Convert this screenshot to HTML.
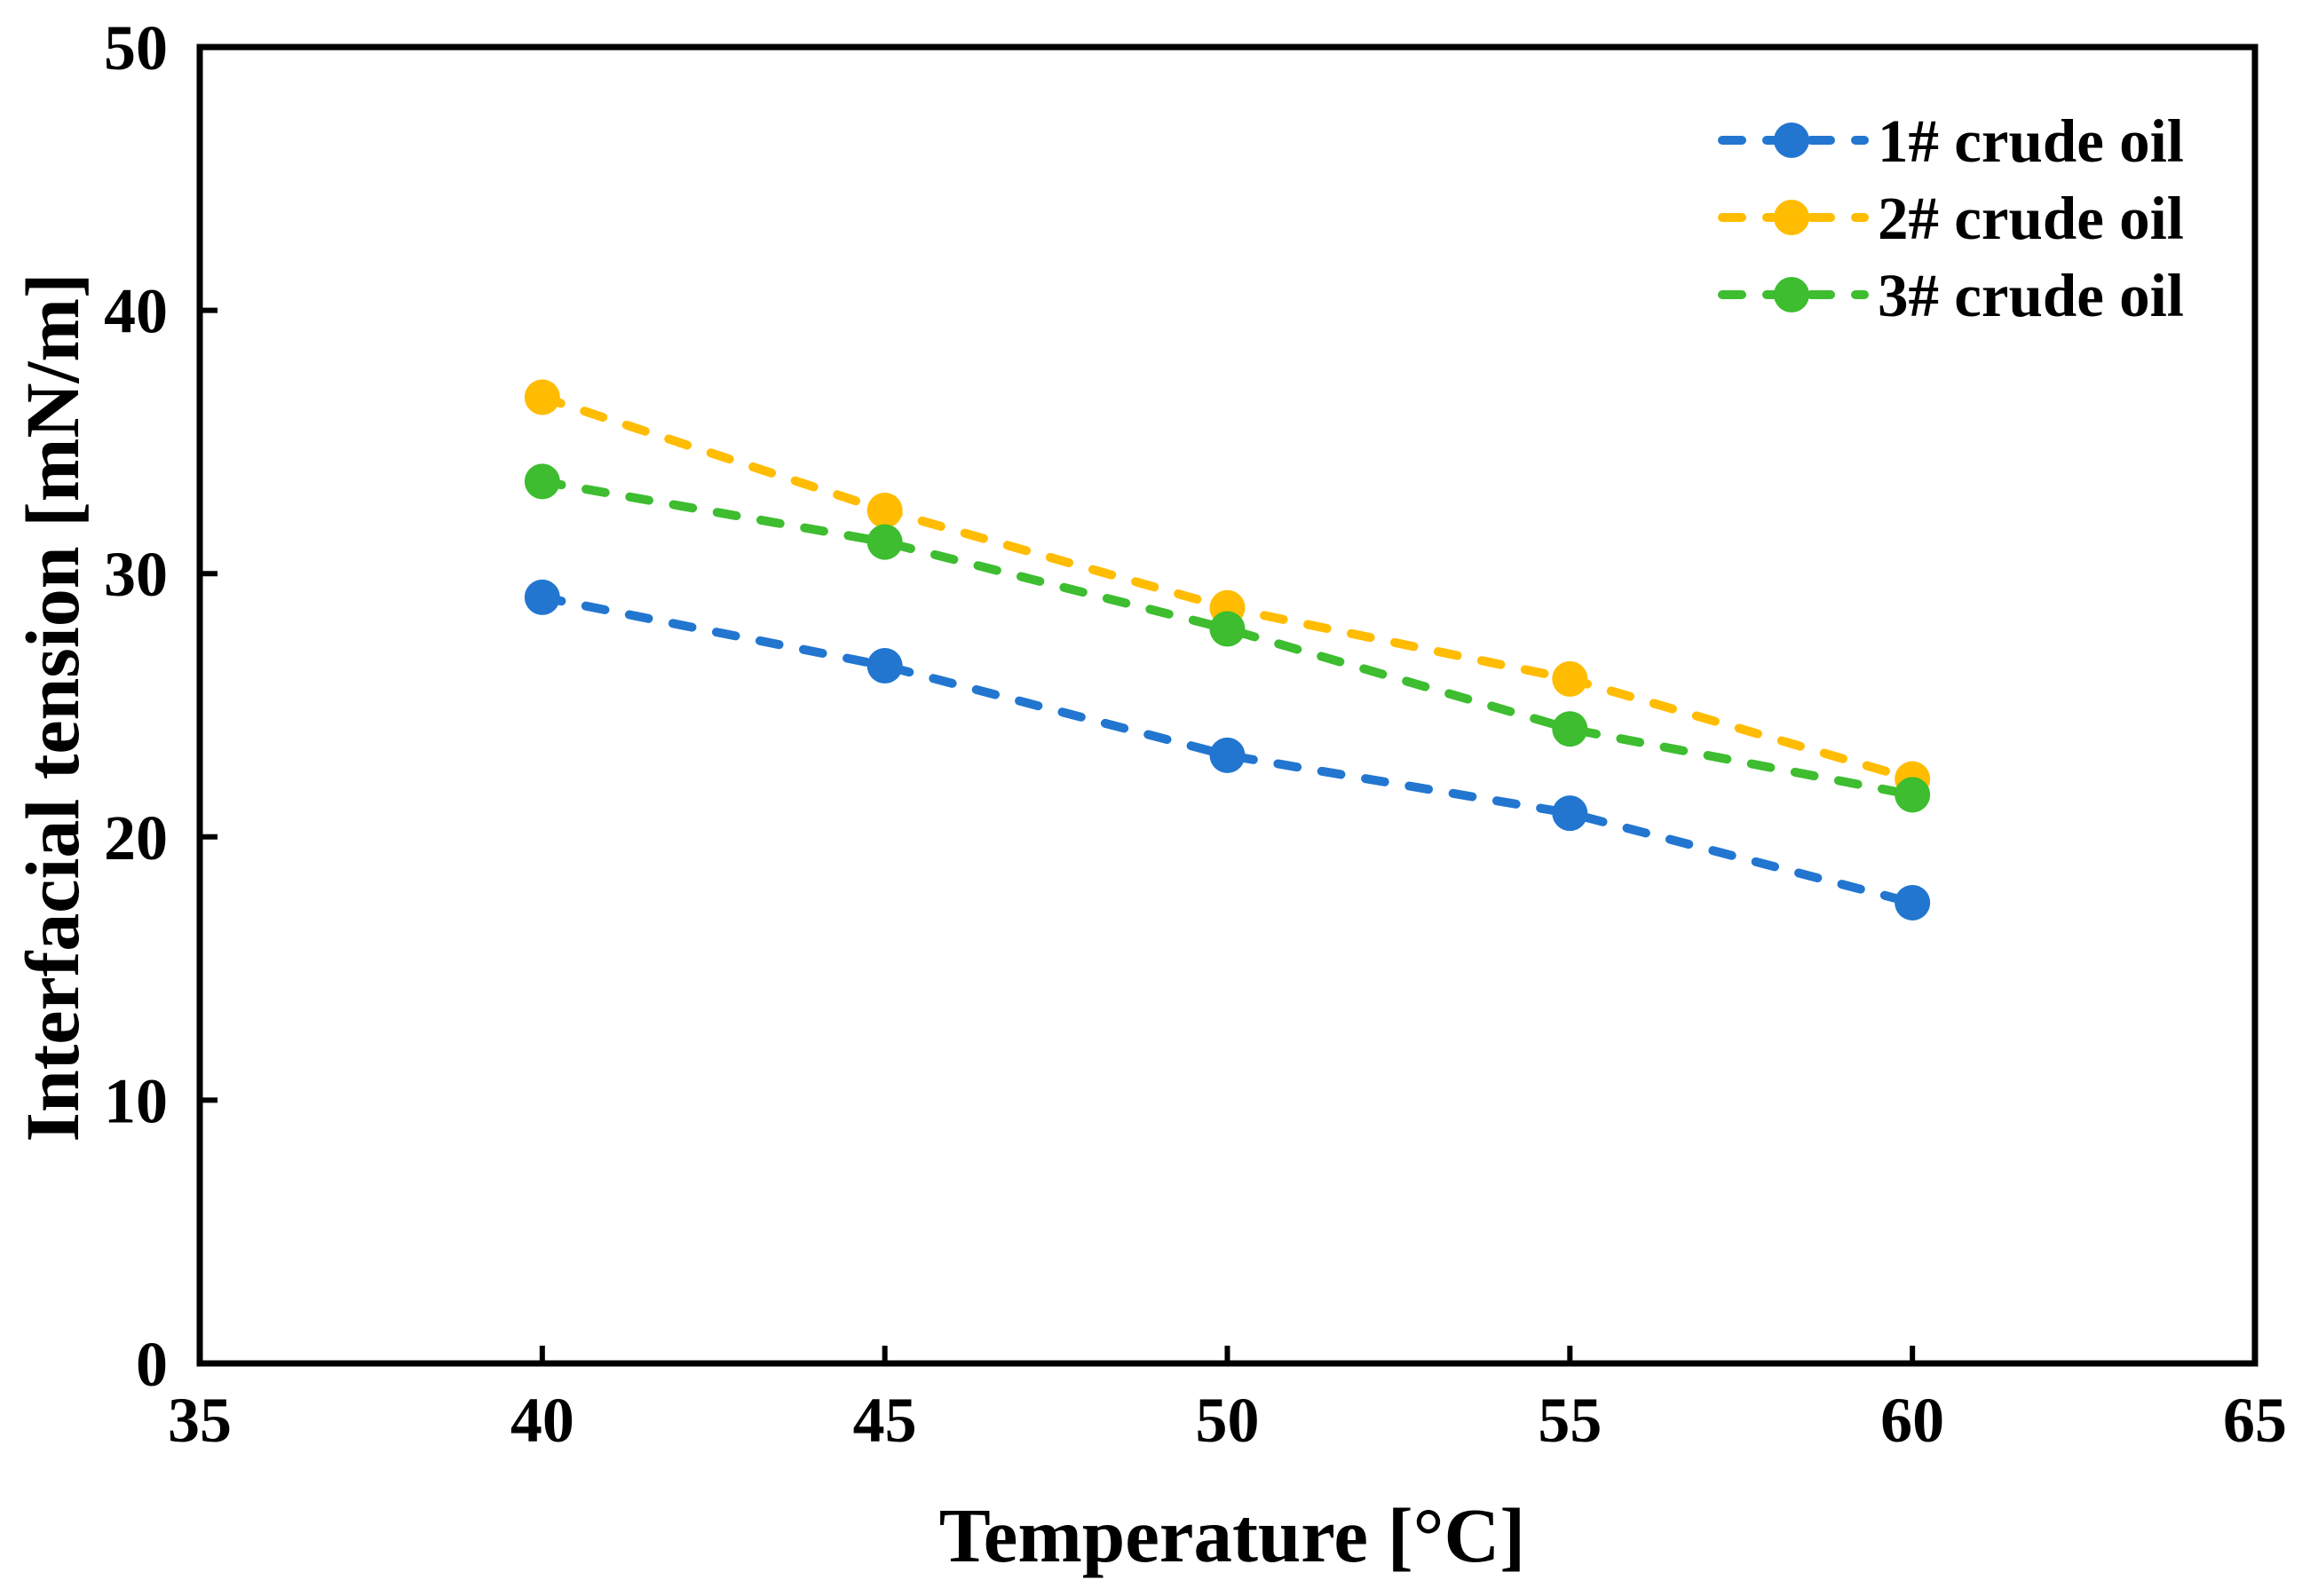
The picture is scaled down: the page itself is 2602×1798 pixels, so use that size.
<!DOCTYPE html>
<html><head><meta charset="utf-8">
<style>
html,body{margin:0;padding:0;background:#fff;}
svg{display:block;font-family:"Liberation Serif",serif;font-weight:bold;}
</style></head>
<body>
<svg id="chart" width="2602" height="1798" viewBox="0 0 2602 1798">
<g id="plot"></g>
</svg>
<script>
const categories = [40, 45, 50, 55, 60];
const seriesNames = ["1# crude oil", "2# crude oil", "3# crude oil"];
const series1 = [29.1, 26.5, 23.1, 20.9, 17.5];
const series2 = [36.7, 32.4, 28.7, 26.0, 22.2];
const series3 = [33.5, 31.2, 27.9, 24.1, 21.6];
const xTicks = [35, 40, 45, 50, 55, 60, 65];
const yTicks = [0, 10, 20, 30, 40, 50];

const colors = ["#2276d0", "#ffbc00", "#3dbd2f"];
const L = 225, R = 2540, T = 53, B = 1536;
const xScale = v => L + (v - 35) / 30 * (R - L);
const yScale = v => B - v / 50 * (B - T);
const NS = "http://www.w3.org/2000/svg";
const g = document.getElementById("plot");
function mk(tag, attrs, parent) {
  const e = document.createElementNS(NS, tag);
  for (const k in attrs) e.setAttribute(k, attrs[k]);
  (parent || g).appendChild(e);
  return e;
}

xTicks.forEach(v => {
  const t = mk("line", {x1: xScale(v), x2: xScale(v), y1: B, y2: B - 20, stroke: "#000", "stroke-width": 6});
  
  
  const lb = mk("text", {x: xScale(v), y: B + 88, "text-anchor": "middle", "font-size": 72});
  lb.textContent = v;
  
  
});
yTicks.forEach(v => {
  const t = mk("line", {x1: L, x2: L + 20, y1: yScale(v), y2: yScale(v), stroke: "#000", "stroke-width": 6});
  
  
  const lb = mk("text", {x: L - 36, y: yScale(v) + 25, "text-anchor": "end", "font-size": 72});
  lb.textContent = v;
  
  
});

const allSeries = [series1, series2, series3];
allSeries.forEach((s, i) => {
  const pts = s.map((v, j) => xScale(categories[j]) + "," + yScale(v)).join(" ");
  const line = mk("polyline", {points: pts, fill: "none", stroke: colors[i], "stroke-width": 10, "stroke-dasharray": "22 28", "stroke-linecap": "round"});
  
  
  s.forEach((v, j) => {
    const c = mk("circle", {cx: xScale(categories[j]), cy: yScale(v), r: 20, fill: colors[i]});
    
    
  });
});

seriesNames.forEach((n, i) => {
  const y = 158 + i * 87;
  const line = mk("line", {x1: 1940, x2: 2100, y1: y, y2: y, stroke: colors[i], "stroke-width": 10, "stroke-dasharray": "22 28", "stroke-linecap": "round"});
  
  
  const c = mk("circle", {cx: 2018, cy: y, r: 20, fill: colors[i]});
  
  
  const t = mk("text", {x: 2115, y: y + 24, "font-size": 69});
  t.textContent = n;
  
  
});

const fr = mk("rect", {x: L, y: T, width: R - L, height: B - T, fill: "none", stroke: "#000", "stroke-width": 7});



const xt = mk("text", {x: 1388, y: 1759, "text-anchor": "middle", "font-size": 87});
xt.textContent = "Temperature [°C]";


const yt = mk("text", {x: 0, y: 0, "text-anchor": "middle", "font-size": 86, transform: "translate(88,797) rotate(-90)"});
yt.textContent = "Interfacial tension [mN/m]";


</script>
</body></html>
